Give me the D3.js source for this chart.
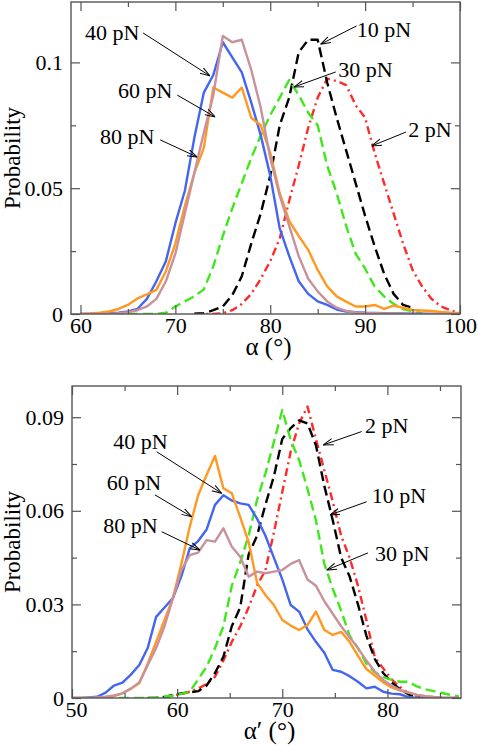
<!DOCTYPE html>
<html><head><meta charset="utf-8">
<script src="https://cdn.jsdelivr.net/npm/d3@7"></script>
<style>body{margin:0;background:#fff}svg{display:block}</style>
</head><body>
<svg id="chart" width="478" height="746"></svg>
<script>
// ---------- DATA: top panel (alpha) ----------
const topAngles = [60,61,62,63,64,65,66,67,68,69,70,71,72,73,74,75,76,77,78,79,80,81,82,83,84,85,86,87,88,89,90,91,92,93,94,95,96,97,98,99,100];
const top2pN  = [null,null,null,null,null,null,null,null,null,null,null,null,0,0,0,0.0003,0.0015,0.004,0.008,0.014,0.021,0.03,0.045,0.059,0.074,0.086,0.0935,0.0926,0.091,0.083,0.078,0.064,0.052,0.04,0.028,0.0175,0.011,0.006,0.003,0.0015,0.0003];
const top10pN = [null,null,null,null,null,null,null,null,null,null,null,null,0.0001,0.0003,0.0015,0.003,0.0075,0.015,0.028,0.04,0.055,0.075,0.086,0.104,0.109,0.109,0.092,0.078,0.065,0.052,0.039,0.027,0.016,0.008,0.0036,0.0025,null,null,null,null,null];
const top30pN = [null,null,null,null,null,0,0,0,0,0.0005,0.003,0.005,0.007,0.0098,0.019,0.031,0.042,0.052,0.062,0.071,0.079,0.086,0.093,0.087,0.08,0.075,0.059,0.048,0.035,0.024,0.018,0.011,0.007,0.004,0.002,0.001,0.0003,null,null,null,null];
const top40pN = [0,0,0,0.0003,0.0005,0.001,0.002,0.006,0.013,0.021,0.036,0.049,0.07,0.088,0.095,0.108,0.102,0.096,0.084,0.071,0.055,0.034,0.023,0.013,0.008,0.005,0.0036,0.0018,0.001,0.0007,0.0005,0.0004,0.0003,0.0002,0.0002,0.0001,0.0001,0,0,0,0];
const top60pN = [0,0.0002,0.0005,0.001,0.002,0.0036,0.0062,0.0078,0.0096,0.017,0.028,0.043,0.056,0.066,0.09,0.088,0.086,0.09,0.078,0.075,0.064,0.048,0.037,0.031,0.0255,0.0175,0.011,0.007,0.0049,0.003,0.003,0.0036,0.002,0.0033,0.0025,0.0016,0.0014,0.0012,0.0008,0.0005,0.0003];
const top80pN = [0,0,0,0,0.0003,0.0007,0.0015,0.003,0.006,0.013,0.024,0.04,0.056,0.072,0.087,0.1105,0.108,0.109,0.097,0.082,0.062,0.047,0.035,0.023,0.014,0.009,0.005,0.0025,0.0012,0.0006,0.0004,0.0003,0.0002,0.0002,0.0001,0,0,0,0,0,0];
const topXTicks = [60,70,80,90,100];
const topXTickLabels = ["60","70","80","90","100"];
const topXMinor = [65,75,85,95];
const topYTicks = [0,0.05,0.1];
const topYTickLabels = ["0","0.05","0.1"];
const topYMinor = [0.025,0.075];

// ---------- DATA: bottom panel (alpha prime) ----------
const botAngles = [50,50.8,51.6,52.4,53.2,54,54.8,55.6,56.4,57.2,58,58.8,59.6,60.4,61.2,62,62.8,63.6,64.4,65.2,66,66.8,67.6,68.4,69.2,70,70.8,71.6,72.4,73.2,74,74.8,75.6,76.4,77.2,78,78.8,79.6,80.4,81.2,82,82.8,83.6,84.4,85.2,86,86.8];
const bot2pN  = [null,null,null,null,null,null,null,null,null,null,null,0,0.0008,0.0013,0.002,0.003,0.0045,0.0068,0.012,0.018,0.023,0.029,0.036,0.041,0.053,0.066,0.079,0.088,0.0934,0.083,0.073,0.063,0.052,0.045,0.036,0.025,0.013,0.0095,0.006,0.0035,0.0015,0.0006,0,null,null,null,null];
const bot10pN = [null,null,null,null,null,null,null,null,null,0,0.0001,0.0003,0.001,0.0015,0.0018,0.0022,0.004,0.008,0.0132,0.023,0.029,0.046,0.052,0.062,0.071,0.083,0.0865,0.089,0.088,0.081,0.068,0.057,0.045,0.039,0.03,0.02,0.0125,0.008,0.005,0.0028,0.0012,0.0003,0,null,null,null,null];
const bot30pN = [null,null,0,0,0,0,0,0,0,0,0.0002,0.0005,0.0008,0.0013,0.002,0.006,0.01,0.016,0.023,0.036,0.0435,0.052,0.0635,0.072,0.082,0.0923,0.0827,0.0763,0.067,0.057,0.043,0.035,0.028,0.02,0.016,0.011,0.0082,0.0067,0.0058,0.0052,0.0052,0.0037,0.0028,0.0022,0.0016,0.001,0.0005];
const bot40pN = [0,0,0.0002,0.0004,0.0017,0.004,0.0049,0.0075,0.0106,0.016,0.026,0.029,0.032,0.039,0.048,0.0503,0.054,0.0619,0.065,0.0633,0.0624,0.0619,0.0575,0.052,0.045,0.038,0.0298,0.0277,0.022,0.018,0.0145,0.009,0.0084,0.007,0.0052,0.0031,0.0036,0.002,0.0014,0.0012,0.0003,0,0,0,0,0,0];
const bot60pN = [0,0,0,0.0001,0.0003,0.0006,0.0015,0.003,0.0047,0.011,0.018,0.025,0.032,0.043,0.0549,0.065,0.0715,0.0776,0.0672,0.0656,0.058,0.05,0.037,0.033,0.0298,0.025,0.0232,0.0218,0.0234,0.0277,0.0218,0.0202,0.0212,0.018,0.0135,0.0093,0.0072,0.005,0.0034,0.0024,0.0017,0.001,0.0006,0.0003,0.0001,0,0];
const bot80pN = [0,0,0,0.0002,0.0004,0.0008,0.0015,0.003,0.005,0.0105,0.016,0.023,0.032,0.041,0.0458,0.0466,0.0506,0.0501,0.0544,0.0485,0.0453,0.0389,0.0405,0.04,0.0405,0.041,0.043,0.0442,0.038,0.036,0.031,0.027,0.023,0.0195,0.016,0.012,0.0085,0.0058,0.004,0.0026,0.0018,0.001,0.0006,0.0003,0.0001,0,0];
const botXTicks = [50,60,70,80];
const botXTickLabels = ["50","60","70","80"];
const botXMinor = [55,65,75,85];
const botYTicks = [0,0.03,0.06,0.09];
const botYTickLabels = ["0","0.03","0.06","0.09"];
const botYMinor = [0.015,0.045,0.075];

// ---------- Annotations (data coordinates) ----------
const topLabels    = ["40 pN","60 pN","80 pN","10 pN","30 pN","2 pN"];
const topLabelAt   = [[60.48,0.1089],[63.95,0.0859],[62.06,0.0676],[89.11,0.1101],[87.17,0.0942],[94.55,0.0703]];
const topArrowFrom = [[66.6,0.1117],[70.2,0.087],[68.4,0.0692],[89.1,0.1145],[86.9,0.0962],[94.3,0.0723]];
const topArrowTo   = [[73.65,0.0946],[74.2,0.0783],[72.3,0.0624],[85.3,0.1072],[82.5,0.0902],[90.7,0.0668]];
const botLabels    = ["40 pN","60 pN","80 pN","2 pN","10 pN","30 pN"];
const botLabelAt   = [[53.93,0.0798],[53.30,0.0667],[52.98,0.0529],[77.87,0.0849],[78.50,0.0625],[78.82,0.0439]];
const botArrowFrom = [[58.06,0.0789],[57.89,0.0651],[58.53,0.0533],[77.55,0.0854],[78.03,0.0629],[78.15,0.0465]];
const botArrowTo   = [[64.24,0.0656],[61.38,0.0581],[62.17,0.0474],[73.90,0.0811],[74.54,0.0587],[74.22,0.0410]];

// ---------- Styles ----------
const seriesStyle = {
  "2 pN":  {color:"#ff2a2a", dash:"8,4,2,4"},
  "10 pN": {color:"#000000", dash:"10,5"},
  "30 pN": {color:"#3ee81a", dash:"10,5"},
  "40 pN": {color:"#4466ee", dash:null},
  "60 pN": {color:"#ff9922", dash:null},
  "80 pN": {color:"#c8919b", dash:null}
};
const FONT = '"Liberation Serif"';
const AXIS_COLOR = "#555";

const svg = d3.select("#chart");
svg.append("rect").attr("width",478).attr("height",746).attr("fill","#fff");
const defs = svg.append("defs");
defs.append("marker").attr("id","arrow").attr("viewBox","0 0 10 8")
  .attr("refX",10).attr("refY",4).attr("markerWidth",10).attr("markerHeight",8)
  .attr("markerUnits","userSpaceOnUse").attr("orient","auto")
  .append("path").attr("d","M0,0.8 L10,4 L0,7.2").attr("fill","none").attr("stroke","#000").attr("stroke-width",1);

function txt(sel, size){ return sel.style("font-family", FONT).style("font-size", size + "px").attr("fill","#000"); }

function panel(cfg){
  const g = svg.append("g");
  const x = d3.scaleLinear().domain(cfg.xDomain).range([cfg.left, cfg.right]);
  const y = d3.scaleLinear().domain(cfg.yDomain).range([cfg.bottom, cfg.top]);
  const clipId = "clip" + cfg.id;
  defs.append("clipPath").attr("id", clipId).append("rect")
    .attr("x", cfg.left).attr("y", cfg.top).attr("width", cfg.right-cfg.left).attr("height", cfg.bottom-cfg.top);

  const line = d3.line().defined(d => d[1] != null).x(d => x(d[0])).y(d => y(d[1]));
  const lg = g.append("g").attr("clip-path", `url(#${clipId})`);
  cfg.series.forEach(s => {
    const st = seriesStyle[s.name];
    lg.append("path").datum(cfg.xs.map((v,i) => [v, s.values[i]]))
      .attr("d", line).attr("fill","none").attr("stroke", st.color)
      .attr("stroke-width", 2.4).attr("stroke-linejoin","round")
      .attr("stroke-dasharray", st.dash);
  });

  function styleAxis(sel){
    sel.select(".domain").remove();
    sel.attr("font-family", null).attr("font-size", null);
    sel.selectAll(".tick line").attr("stroke", AXIS_COLOR).attr("stroke-width",1.2);
    txt(sel.selectAll("text"), 22);
  }
  const bx = g.append("g").attr("transform",`translate(0,${cfg.bottom})`)
    .call(d3.axisBottom(x).tickValues(cfg.xTicks).tickSize(-9).tickFormat((d,i)=>cfg.xLabels[i]));
  styleAxis(bx);
  bx.selectAll("text").attr("y",19).attr("dy",null).attr("dx", (d,i) => i === 0 && cfg.shiftFirstX ? cfg.shiftFirstX : 0);
  g.append("g").attr("transform",`translate(0,${cfg.bottom})`)
    .call(d3.axisBottom(x).tickValues(cfg.xMinor).tickSize(-5).tickFormat("")).call(styleAxis);
  g.append("g").attr("transform",`translate(0,${cfg.top})`)
    .call(d3.axisTop(x).tickValues(cfg.xTicks).tickSize(-9).tickFormat("")).call(styleAxis);
  g.append("g").attr("transform",`translate(0,${cfg.top})`)
    .call(d3.axisTop(x).tickValues(cfg.xMinor).tickSize(-5).tickFormat("")).call(styleAxis);
  const ly = g.append("g").attr("transform",`translate(${cfg.left},0)`)
    .call(d3.axisLeft(y).tickValues(cfg.yTicks).tickSize(-9).tickPadding(8).tickFormat((d,i)=>cfg.yLabels[i]));
  styleAxis(ly);
  g.append("g").attr("transform",`translate(${cfg.left},0)`)
    .call(d3.axisLeft(y).tickValues(cfg.yMinor).tickSize(-5).tickFormat("")).call(styleAxis);
  g.append("g").attr("transform",`translate(${cfg.right},0)`)
    .call(d3.axisRight(y).tickValues(cfg.yTicks).tickSize(-9).tickFormat("")).call(styleAxis);
  g.append("g").attr("transform",`translate(${cfg.right},0)`)
    .call(d3.axisRight(y).tickValues(cfg.yMinor).tickSize(-5).tickFormat("")).call(styleAxis);

  g.append("rect").attr("x",cfg.left).attr("y",cfg.top)
    .attr("width",cfg.right-cfg.left).attr("height",cfg.bottom-cfg.top)
    .attr("fill","none").attr("stroke",AXIS_COLOR).attr("stroke-width",1.4);

  txt(g.append("text").attr("transform",`translate(20,${(cfg.top+cfg.bottom)/2}) rotate(-90)`)
    .attr("text-anchor","middle"), 23).text("Probability");
  txt(g.append("text").attr("x",(cfg.left+cfg.right)/2+3).attr("y",cfg.bottom+41)
    .attr("text-anchor","middle"), 25).text(cfg.xTitle);

  cfg.labels.forEach((t,i) => {
    g.append("line")
      .attr("x1", x(cfg.from[i][0])).attr("y1", y(cfg.from[i][1]))
      .attr("x2", x(cfg.to[i][0])).attr("y2", y(cfg.to[i][1]))
      .attr("stroke","#000").attr("stroke-width",1).attr("marker-end","url(#arrow)");
    txt(g.append("text").attr("x", x(cfg.at[i][0])).attr("y", y(cfg.at[i][1])), 22).text(t);
  });
}

panel({id:"top", xDomain:[59,100], yDomain:[0,0.124], left:71, right:460, top:2, bottom:314,
  xs: topAngles,
  series:[{name:"2 pN",values:top2pN},{name:"10 pN",values:top10pN},{name:"30 pN",values:top30pN},
          {name:"40 pN",values:top40pN},{name:"60 pN",values:top60pN},{name:"80 pN",values:top80pN}],
  xTicks:topXTicks, xLabels:topXTickLabels, xMinor:topXMinor,
  yTicks:topYTicks, yLabels:topYTickLabels, yMinor:topYMinor,
  xTitle:"α (°)",
  labels:topLabels, at:topLabelAt, from:topArrowFrom, to:topArrowTo});

panel({id:"bot", xDomain:[50,87], yDomain:[0,0.1], left:72, right:461, top:386, bottom:698,
  xs: botAngles, shiftFirstX: 4,
  series:[{name:"2 pN",values:bot2pN},{name:"10 pN",values:bot10pN},{name:"30 pN",values:bot30pN},
          {name:"40 pN",values:bot40pN},{name:"60 pN",values:bot60pN},{name:"80 pN",values:bot80pN}],
  xTicks:botXTicks, xLabels:botXTickLabels, xMinor:botXMinor,
  yTicks:botYTicks, yLabels:botYTickLabels, yMinor:botYMinor,
  xTitle:"α′ (°)",
  labels:botLabels, at:botLabelAt, from:botArrowFrom, to:botArrowTo});
</script>
</body></html>
